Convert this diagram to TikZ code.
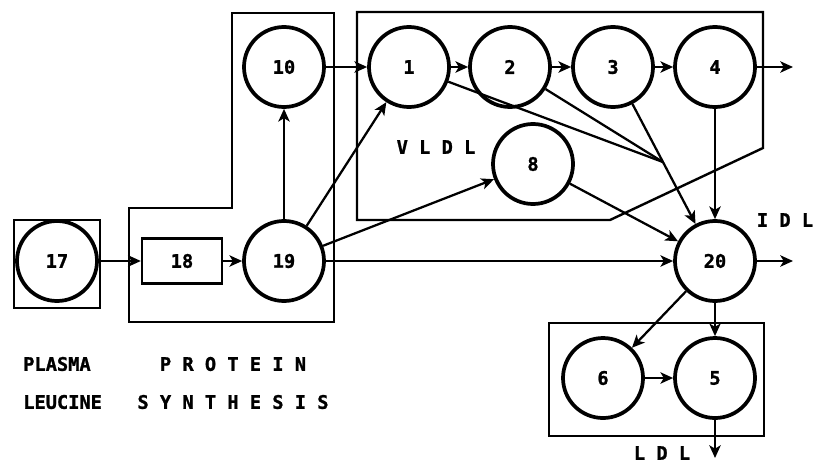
\documentclass[tikz,border=0pt]{standalone}
\usepackage{fontspec}
\newfontfamily\plotfont{DejaVu Sans Mono}[FakeBold=1.2]
\usetikzlibrary{arrows.meta,calc}

\begin{document}
\begin{tikzpicture}[x=0.75pt,y=-0.75pt,
  plotlbl/.style={font=\plotfont\bfseries\fontsize{14pt}{16pt}\selectfont,inner sep=0pt},
  comp/.style={circle,draw,line width=2.8pt,minimum size=60pt,inner sep=0pt,plotlbl},
  rectcomp/.style={rectangle,draw,line width=1.8pt,minimum width=60pt,minimum height=33.75pt,inner sep=0pt,plotlbl},
  frame/.style={draw,line width=1.8pt,line join=miter},
  flow/.style={draw,line width=1.7pt,-{Stealth[length=9.5pt,width=8.5pt,inset=2.5pt]}},
  link/.style={draw,line width=1.7pt},
]
\useasboundingbox (0,0) rectangle (816,464);

% grouping frames
\draw[frame] (14,220) rectangle (100,308);
\draw[frame] (232,13) -- (334,13) -- (334,322) -- (129,322) -- (129,208) -- (232,208) -- cycle;
\draw[frame] (357,12) -- (763,12) -- (763,148) -- (610,220) -- (357,220) -- cycle;
\draw[frame] (549,323) rectangle (764,436);

% compartments
\node[comp] (n17) at (57,261) {17};
\node[rectcomp] (n18) at (182,261) {18};
\node[comp] (n19) at (284,261) {19};
\node[comp] (n10) at (284,67) {10};
\node[comp] (n1) at (409,67) {1};
\node[comp] (n2) at (510,67) {2};
\node[comp] (n3) at (613,67) {3};
\node[comp] (n4) at (715,67) {4};
\node[comp] (n8) at (533,164) {8};
\node[comp] (n20) at (715,261) {20};
\node[comp] (n6) at (603,378) {6};
\node[comp] (n5) at (715,378) {5};

% free ends of outgoing fluxes
\coordinate (o4) at (793,67);
\coordinate (o20) at (793,261);
\coordinate (o5) at (715,458);
\coordinate (m) at ($(n3)!0.49!(n20)$);

% fluxes
\path[flow] (n17) -- (n18);
\path[flow] (n18) -- (n19);
\path[flow] (n19) -- (n10);
\path[flow] (n10) -- (n1);
\path[flow] (n19) -- (n1);
\path[flow] (n19) -- (n8);
\path[flow] (n19) -- (n20);
\path[flow] (n1) -- (n2);
\path[flow] (n2) -- (n3);
\path[flow] (n3) -- (n4);
\path[flow] (n4) -- (o4);
\path[link] (n1) -- (m);
\path[link] (n2) -- (m);
\path[flow] (n3) -- (n20);
\path[flow] (n4) -- (n20);
\path[flow] (n8) -- (n20);
\path[flow] (n20) -- (o20);
\path[flow] (n20) -- (n5);
\path[flow] (n20) -- (n6);
\path[flow] (n6) -- (n5);
\path[flow] (n5) -- (o5);

% labels
\node[plotlbl] (vldl) at (436,147) {V L D L};
\node[plotlbl] (idl) at (785,220) {I D L};
\node[plotlbl] (ldl) at (662,453) {L D L};
\node[plotlbl,anchor=west] (plasma) at (23,364) {PLASMA};
\node[plotlbl,anchor=west] (leucine) at (23,402) {LEUCINE};
\node[plotlbl] (protein) at (233,364) {P R O T E I N};
\node[plotlbl] (synth) at (233,402) {S Y N T H E S I S};
\end{tikzpicture}
\end{document}
